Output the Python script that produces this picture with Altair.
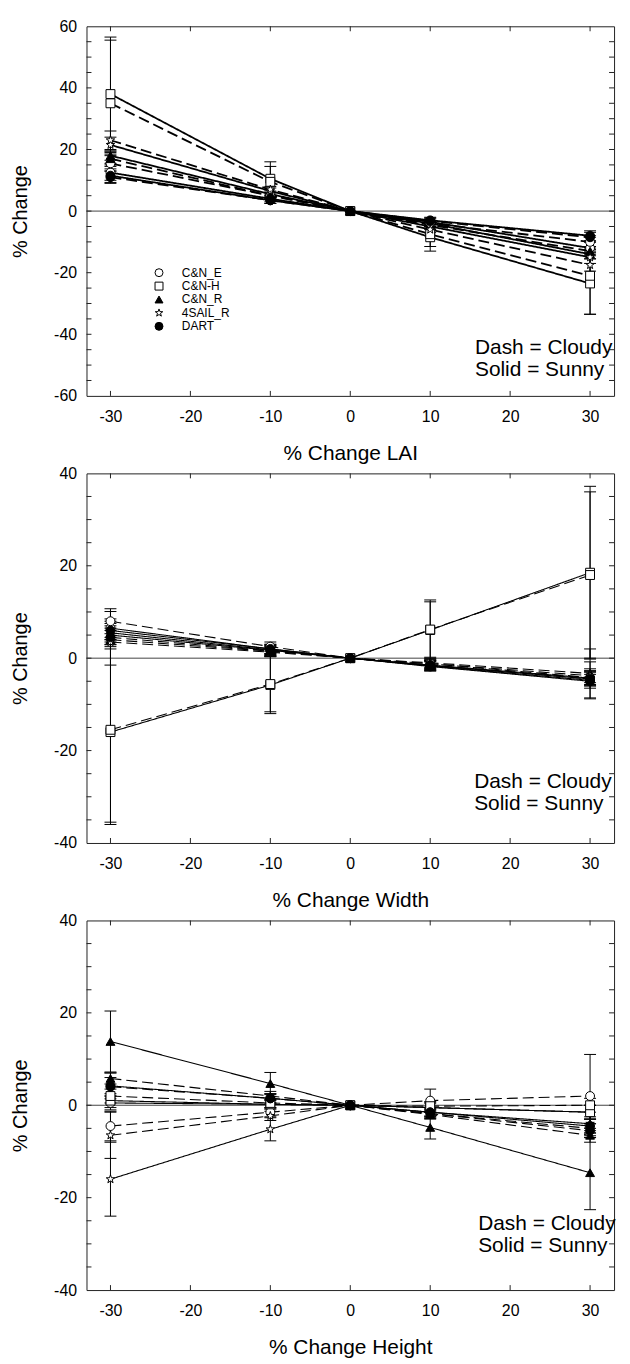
import altair as alt
import pandas as pd

X_VALUES = [-30, -10, 0, 10, 30]
MODELS = ["C&N_E", "C&N-H", "C&N_R", "4SAIL_R", "DART"]
STAR = ("M0,-1L0.235,-0.324L0.951,-0.309L0.38,0.124L0.588,0.809L0,0.4"
        "L-0.588,0.809L-0.38,0.124L-0.951,-0.309L-0.235,-0.324Z")
MODEL_SHAPES = ["circle", "square", "triangle-up", STAR, "circle"]
MODEL_FILLS = ["white", "white", "black", "white", "black"]
CONDITIONS = ["Cloudy", "Sunny"]
NOTE_LINES = ["Dash = Cloudy", "Solid = Sunny"]
X_TICKS = [-30, -20, -10, 0, 10, 20, 30]

# ---------------- LAI panel ----------------
LAI_CNE_SUNNY = [12.5, 4.0, 0, -3.5, -12.0]
LAI_CNE_CLOUDY = [15.5, 5.0, 0, -4.0, -10.0]
LAI_CNH_SUNNY = [38.0, 10.5, 0, -8.5, -23.5]
LAI_CNH_CLOUDY = [35.0, 9.5, 0, -7.5, -21.0]
LAI_CNR_SUNNY = [18.0, 5.5, 0, -4.0, -14.0]
LAI_CNR_CLOUDY = [17.0, 5.0, 0, -4.5, -13.0]
LAI_SAIL_SUNNY = [21.5, 6.5, 0, -5.0, -15.0]
LAI_SAIL_CLOUDY = [23.0, 7.0, 0, -6.0, -17.5]
LAI_DART_SUNNY = [11.5, 3.5, 0, -3.0, -8.0]
LAI_DART_CLOUDY = [11.0, 3.5, 0, -3.2, -8.5]

LAI_CNE_SUNNY_ERR = [2.5, 1, 0, 1, 2]
LAI_CNE_CLOUDY_ERR = [2.5, 1, 0, 1, 2]
LAI_CNH_SUNNY_ERR = [18.5, 5.5, 0, 4.5, 10]
LAI_CNH_CLOUDY_ERR = [20.5, 5, 0, 4, 12.5]
LAI_CNR_SUNNY_ERR = [1.5, 1, 0, 1, 1.5]
LAI_CNR_CLOUDY_ERR = [1.5, 1, 0, 1, 1.5]
LAI_SAIL_SUNNY_ERR = [2.5, 1, 0, 1, 2]
LAI_SAIL_CLOUDY_ERR = [3, 1, 0, 1, 2]
LAI_DART_SUNNY_ERR = [2.2, 1, 0, 1, 1.6]
LAI_DART_CLOUDY_ERR = [2, 1, 0, 1, 1.6]

# ---------------- Width panel ----------------
WID_CNE_SUNNY = [6.5, 2.0, 0, -1.7, -4.8]
WID_CNE_CLOUDY = [8.0, 2.5, 0, -1.2, -4.2]
WID_CNH_SUNNY = [-16.0, -5.8, 0, 6.1, 18.5]
WID_CNH_CLOUDY = [-15.5, -5.6, 0, 6.2, 18.0]
WID_CNR_SUNNY = [5.5, 1.8, 0, -1.6, -4.5]
WID_CNR_CLOUDY = [4.0, 1.5, 0, -1.0, -3.3]
WID_SAIL_SUNNY = [5.0, 1.7, 0, -1.5, -4.3]
WID_SAIL_CLOUDY = [3.5, 1.3, 0, -1.2, -3.8]
WID_DART_SUNNY = [6.0, 2.0, 0, -1.8, -5.0]
WID_DART_CLOUDY = [4.5, 1.6, 0, -1.5, -4.5]

WID_CNE_SUNNY_ERR = [3.6, 1, 0, 1, 4]
WID_CNE_CLOUDY_ERR = [2.7, 1, 0, 1, 1.5]
WID_CNH_SUNNY_ERR = [20, 6.2, 0, 6.5, 18.7]
WID_CNH_CLOUDY_ERR = [20, 6, 0, 6, 18]
WID_CNR_SUNNY_ERR = [2, 1, 0, 1, 1.5]
WID_CNR_CLOUDY_ERR = [2, 1, 0, 1, 5.3]
WID_SAIL_SUNNY_ERR = [2, 1, 0, 1, 1.5]
WID_SAIL_CLOUDY_ERR = [5, 1, 0, 1, 1.5]
WID_DART_SUNNY_ERR = [2, 1, 0, 1, 1.5]
WID_DART_CLOUDY_ERR = [2, 1, 0, 1, 1.5]

# ---------------- Height panel ----------------
HGT_CNE_SUNNY = [0.5, 0.2, 0, -0.5, -1.5]
HGT_CNE_CLOUDY = [-4.5, -1.5, 0, 1.0, 2.0]
HGT_CNH_SUNNY = [1.0, 0.2, 0, -0.5, -1.5]
HGT_CNH_CLOUDY = [2.0, 0.5, 0, -0.2, 0.0]
HGT_CNR_SUNNY = [13.8, 4.7, 0, -4.8, -14.6]
HGT_CNR_CLOUDY = [5.8, 2.0, 0, -2.0, -6.5]
HGT_SAIL_SUNNY = [-16.0, -5.2, 0, -1.5, -4.0]
HGT_SAIL_CLOUDY = [-6.5, -2.3, 0, -1.8, -5.0]
HGT_DART_SUNNY = [4.2, 1.5, 0, -1.5, -4.5]
HGT_DART_CLOUDY = [4.0, 1.5, 0, -1.8, -5.5]

HGT_CNE_SUNNY_ERR = [1.5, 1, 0, 1, 1.5]
HGT_CNE_CLOUDY_ERR = [3.2, 1, 0, 2.5, 9]
HGT_CNH_SUNNY_ERR = [1.5, 1, 0, 1, 1.5]
HGT_CNH_CLOUDY_ERR = [1.5, 1, 0, 1, 1.5]
HGT_CNR_SUNNY_ERR = [6.6, 2.4, 0, 2.5, 8]
HGT_CNR_CLOUDY_ERR = [1.2, 1, 0, 1, 1.5]
HGT_SAIL_SUNNY_ERR = [8, 2.5, 0, 1, 1.5]
HGT_SAIL_CLOUDY_ERR = [5, 1, 0, 1, 1]
HGT_DART_SUNNY_ERR = [2.8, 1, 0, 1, 1.5]
HGT_DART_CLOUDY_ERR = [2, 1, 0, 1, 1.5]

Y_TICKS_60 = [-55, -50, -45, -40, -35, -30, -25, -20, -15, -10, -5, 0,
              5, 10, 15, 20, 25, 30, 35, 40, 45, 50, 55]
Y_TICKS_40 = [-35, -30, -25, -20, -15, -10, -5, 0,
              5, 10, 15, 20, 25, 30, 35]
Y_LABELS_60 = [-60, -40, -20, 0, 20, 40, 60]
Y_LABELS_40 = [-40, -20, 0, 20, 40]

FONT = "Liberation Sans"
W, H = 531, 372


def build(series):
    rows = []
    for model, cond, vals, errs in series:
        for x, y, e in zip(X_VALUES, vals, errs):
            rows.append({"model": model, "cond": cond, "series": model + cond,
                         "x": x, "y": y, "err": e, "lo": y - e, "hi": y + e})
    return pd.DataFrame(rows)


lai_df = build([
    ("C&N_E", "Sunny", LAI_CNE_SUNNY, LAI_CNE_SUNNY_ERR),
    ("C&N_E", "Cloudy", LAI_CNE_CLOUDY, LAI_CNE_CLOUDY_ERR),
    ("C&N-H", "Sunny", LAI_CNH_SUNNY, LAI_CNH_SUNNY_ERR),
    ("C&N-H", "Cloudy", LAI_CNH_CLOUDY, LAI_CNH_CLOUDY_ERR),
    ("C&N_R", "Sunny", LAI_CNR_SUNNY, LAI_CNR_SUNNY_ERR),
    ("C&N_R", "Cloudy", LAI_CNR_CLOUDY, LAI_CNR_CLOUDY_ERR),
    ("4SAIL_R", "Sunny", LAI_SAIL_SUNNY, LAI_SAIL_SUNNY_ERR),
    ("4SAIL_R", "Cloudy", LAI_SAIL_CLOUDY, LAI_SAIL_CLOUDY_ERR),
    ("DART", "Sunny", LAI_DART_SUNNY, LAI_DART_SUNNY_ERR),
    ("DART", "Cloudy", LAI_DART_CLOUDY, LAI_DART_CLOUDY_ERR),
])
wid_df = build([
    ("C&N_E", "Sunny", WID_CNE_SUNNY, WID_CNE_SUNNY_ERR),
    ("C&N_E", "Cloudy", WID_CNE_CLOUDY, WID_CNE_CLOUDY_ERR),
    ("C&N-H", "Sunny", WID_CNH_SUNNY, WID_CNH_SUNNY_ERR),
    ("C&N-H", "Cloudy", WID_CNH_CLOUDY, WID_CNH_CLOUDY_ERR),
    ("C&N_R", "Sunny", WID_CNR_SUNNY, WID_CNR_SUNNY_ERR),
    ("C&N_R", "Cloudy", WID_CNR_CLOUDY, WID_CNR_CLOUDY_ERR),
    ("4SAIL_R", "Sunny", WID_SAIL_SUNNY, WID_SAIL_SUNNY_ERR),
    ("4SAIL_R", "Cloudy", WID_SAIL_CLOUDY, WID_SAIL_CLOUDY_ERR),
    ("DART", "Sunny", WID_DART_SUNNY, WID_DART_SUNNY_ERR),
    ("DART", "Cloudy", WID_DART_CLOUDY, WID_DART_CLOUDY_ERR),
])
hgt_df = build([
    ("C&N_E", "Sunny", HGT_CNE_SUNNY, HGT_CNE_SUNNY_ERR),
    ("C&N_E", "Cloudy", HGT_CNE_CLOUDY, HGT_CNE_CLOUDY_ERR),
    ("C&N-H", "Sunny", HGT_CNH_SUNNY, HGT_CNH_SUNNY_ERR),
    ("C&N-H", "Cloudy", HGT_CNH_CLOUDY, HGT_CNH_CLOUDY_ERR),
    ("C&N_R", "Sunny", HGT_CNR_SUNNY, HGT_CNR_SUNNY_ERR),
    ("C&N_R", "Cloudy", HGT_CNR_CLOUDY, HGT_CNR_CLOUDY_ERR),
    ("4SAIL_R", "Sunny", HGT_SAIL_SUNNY, HGT_SAIL_SUNNY_ERR),
    ("4SAIL_R", "Cloudy", HGT_SAIL_CLOUDY, HGT_SAIL_CLOUDY_ERR),
    ("DART", "Sunny", HGT_DART_SUNNY, HGT_DART_SUNNY_ERR),
    ("DART", "Cloudy", HGT_DART_CLOUDY, HGT_DART_CLOUDY_ERR),
])

LABEL_EXPR = "'' + datum.value"


def panel(df, ydom, ylabels, yticks, xtitle, sw, show_legend, note_x, note_ys):
    xs = alt.Scale(domain=[-33, 33], nice=False, zero=False)
    ys = alt.Scale(domain=ydom, nice=False, zero=False)
    xaxis = alt.Axis(values=X_TICKS, title=xtitle, ticks=False, domain=False,
                     grid=False, labelFontSize=16, labelPadding=13,
                     labelExpr=LABEL_EXPR,
                     titleFontSize=21, titlePadding=18, titleFontWeight="normal",
                     labelColor="black", titleColor="black", labelFont=FONT,
                     titleFont=FONT)
    yaxis = alt.Axis(values=ylabels, title="% Change", ticks=False, domain=False,
                     grid=False, labelFontSize=16, labelPadding=10,
                     labelExpr=LABEL_EXPR,
                     titleFontSize=20, titlePadding=23, titleFontWeight="normal",
                     labelColor="black", titleColor="black", labelFont=FONT,
                     titleFont=FONT)

    def X(f="x"):
        return alt.X(f + ":Q", scale=xs, axis=xaxis)

    def Y(f="y"):
        return alt.Y(f + ":Q", scale=ys, axis=yaxis)

    zero = alt.Chart(pd.DataFrame({"y": [0]})).mark_rule(
        color="#444", strokeWidth=1).encode(y=Y())

    edf = df[df["err"] > 0]
    ebar = alt.Chart(edf).mark_rule(color="black", strokeWidth=1).encode(
        x=X(), y=Y("lo"), y2="hi:Q")
    cap_lo = alt.Chart(edf).mark_point(shape="stroke", size=144, filled=False,
                                       stroke="black", strokeWidth=1, opacity=1
                                       ).encode(x=X(), y=Y("lo"))
    cap_hi = alt.Chart(edf).mark_point(shape="stroke", size=144, filled=False,
                                       stroke="black", strokeWidth=1, opacity=1
                                       ).encode(x=X(), y=Y("hi"))

    lines = alt.Chart(df).mark_line(color="black", strokeWidth=sw).encode(
        x=X(), y=Y(), detail="series:N",
        strokeDash=alt.StrokeDash("cond:N", scale=alt.Scale(
            domain=CONDITIONS, range=[[11, 5], [1, 0]]), legend=None))

    if show_legend:
        leg = alt.Legend(title=None, orient="none", legendX=67, legendY=242,
                         labelFontSize=12, labelFont=FONT, labelColor="black",
                         symbolSize=64, symbolStrokeColor="black",
                         symbolStrokeWidth=1, labelOffset=17, rowPadding=1.5,
                         padding=0, symbolFillColor="white")
    else:
        leg = None
    pts = alt.Chart(df).mark_point(filled=True, stroke="black", strokeWidth=1,
                                   size=80, opacity=1, fillOpacity=1).encode(
        x=X(), y=Y(),
        shape=alt.Shape("model:N", scale=alt.Scale(domain=MODELS, range=MODEL_SHAPES),
                        legend=leg),
        fill=alt.Fill("model:N", scale=alt.Scale(domain=MODELS, range=MODEL_FILLS),
                      legend=leg))

    ytk = pd.DataFrame({"t": yticks})
    xtk = pd.DataFrame({"t": X_TICKS})
    tick_l = alt.Chart(ytk).mark_rule(color="#222").encode(
        y=Y("t"), x=alt.value(0), x2=alt.value(5))
    tick_r = alt.Chart(ytk).mark_rule(color="#222").encode(
        y=Y("t"), x=alt.value(W - 5), x2=alt.value(W))
    tick_t = alt.Chart(xtk).mark_rule(color="#222").encode(
        x=X("t"), y=alt.value(0), y2=alt.value(5))
    tick_b = alt.Chart(xtk).mark_rule(color="#222").encode(
        x=X("t"), y=alt.value(H - 5), y2=alt.value(H))

    note = alt.Chart(pd.DataFrame({"text": NOTE_LINES, "x": [note_x, note_x],
                                   "y": note_ys})).mark_text(
        align="left", baseline="middle", fontSize=21, font=FONT, color="black"
    ).encode(x=X(), y=Y(), text="text:N")

    return alt.layer(zero, ebar, cap_lo, cap_hi, lines, pts, tick_l, tick_r,
                     tick_t, tick_b, note).properties(width=W, height=H)


p1 = panel(lai_df, [-60, 60], Y_LABELS_60, Y_TICKS_60, "% Change LAI", 1.8, True,
           15.6, [-44.5, -51.6])
p2 = panel(wid_df, [-40, 40], Y_LABELS_40, Y_TICKS_40, "% Change Width", 1.1, False,
           15.5, [-26.9, -31.6])
p3 = panel(hgt_df, [-40, 40], Y_LABELS_40, Y_TICKS_40, "% Change Height", 1.1, False,
           16.0, [-25.8, -30.5])

chart = alt.vconcat(p1, p2, p3, spacing=0).resolve_scale(
    shape="independent", fill="independent").properties(
    padding={"left": 2, "top": 5, "right": 5, "bottom": 0}
).configure(font=FONT).configure_view(stroke="#222", strokeWidth=1)

chart.save("out.html", embed_options={"renderer": "svg", "actions": False})
